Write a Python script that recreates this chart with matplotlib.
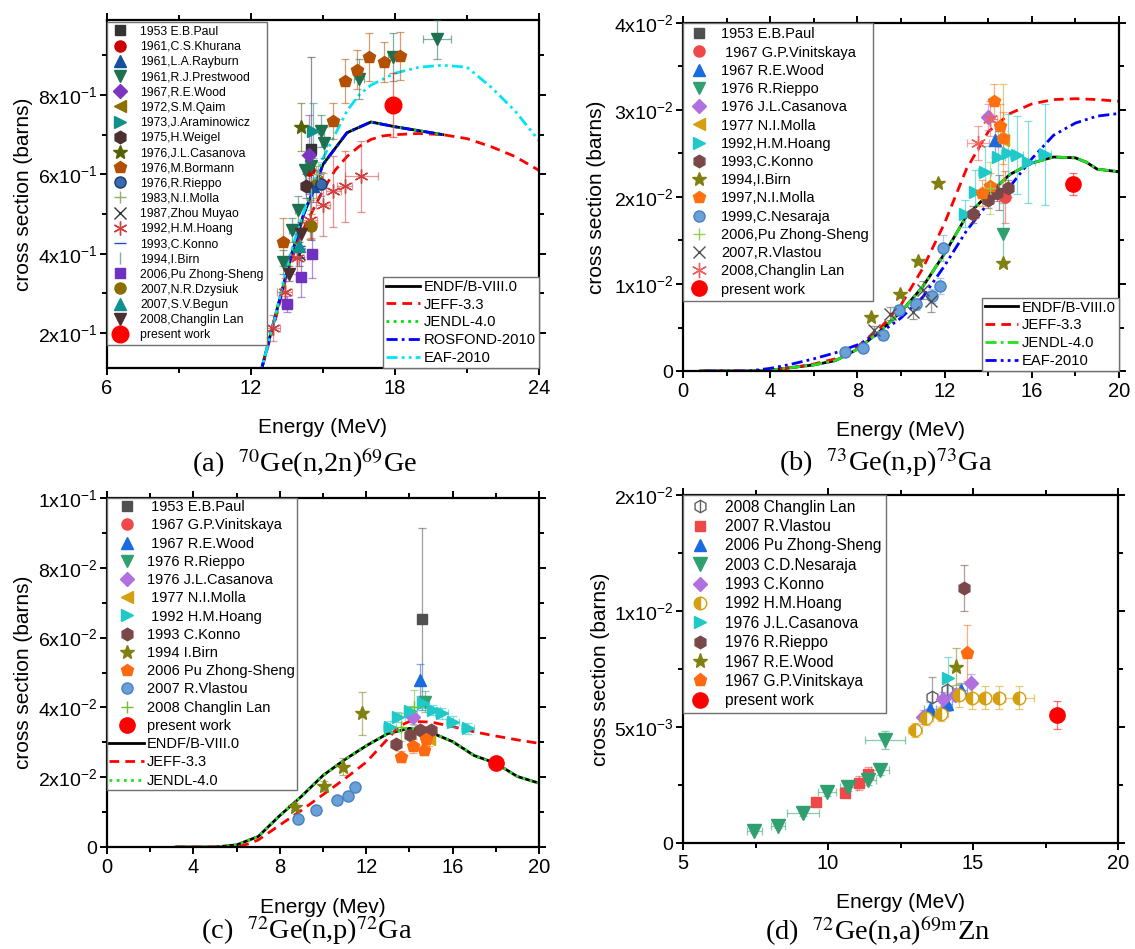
import numpy as np
import matplotlib
matplotlib.use("Agg")
from matplotlib import pyplot as plt
from matplotlib import ticker

plt.rcParams['font.family'] = ['Liberation Sans', 'DejaVu Sans']
plt.rcParams['mathtext.fontset'] = 'custom'
plt.rcParams['mathtext.rm'] = 'Liberation Sans'
plt.rcParams['mathtext.it'] = 'Liberation Sans:italic'
plt.rcParams['mathtext.bf'] = 'Liberation Sans:bold'

# ---------------- (a) 70Ge(n,2n)69Ge ----------------
a_endf_e = [12.0, 12.4, 13.0, 13.7, 14.2, 14.6, 15.0, 16.0, 17.0, 18.0, 19.0, 20.0]
a_endf_y = [0.0, 0.10, 0.24, 0.40, 0.50, 0.56, 0.625, 0.705, 0.732, 0.72, 0.71, 0.70]
a_jeff_e = [12.0, 12.4, 13.0, 13.5, 14.0, 14.5, 15.0, 15.5, 16.0, 16.5, 17.0, 17.5, 18.0, 19.0, 20.0, 21.0, 22.0, 23.0, 24.0]
a_jeff_y = [0.0, 0.10, 0.23, 0.35, 0.44, 0.50, 0.56, 0.61, 0.645, 0.67, 0.688, 0.697, 0.70, 0.703, 0.70, 0.69, 0.67, 0.645, 0.61]
a_eaf_e = [12.0, 12.4, 13.0, 13.5, 14.0, 14.5, 15.0, 15.5, 16.0, 16.5, 17.0, 17.5, 18.0, 19.0, 20.0, 21.0, 22.0, 23.0, 24.0]
a_eaf_y = [0.0, 0.10, 0.24, 0.37, 0.47, 0.56, 0.64, 0.70, 0.76, 0.80, 0.825, 0.84, 0.855, 0.87, 0.875, 0.87, 0.82, 0.76, 0.685]

a_paul_e, a_paul_y, a_paul_err = [14.5], [0.665], [0.23]
a_khurana_e, a_khurana_y, a_khurana_err = [14.4], [0.61], [0.04]
a_rayburn_e, a_rayburn_y, a_rayburn_err = [14.6], [0.57], [0.04]
a_prestwood_e = [13.35, 13.7, 13.95, 14.25, 14.5, 14.9, 15.05, 16.5, 17.9, 19.75]
a_prestwood_y = [0.38, 0.46, 0.51, 0.61, 0.62, 0.71, 0.68, 0.84, 0.895, 0.94]
a_prestwood_err = [0.03, 0.03, 0.035, 0.04, 0.04, 0.04, 0.04, 0.05, 0.06, 0.05]
a_prestwood_xerr = [0.1, 0.1, 0.1, 0.1, 0.1, 0.1, 0.1, 0.2, 0.2, 0.6]
a_wood_e, a_wood_y, a_wood_err = [14.4], [0.65], [0.1]
a_qaim_e, a_qaim_y, a_qaim_err = [14.7], [0.58], [0.04]
a_aram_e, a_aram_y, a_aram_err = [14.6], [0.71], [0.07]
a_weigel_e, a_weigel_y, a_weigel_err = [14.3], [0.57], [0.03]
a_casanova_e, a_casanova_y, a_casanova_err = [14.07], [0.72], [0.06]
a_bormann_e = [13.35, 15.4, 15.9, 16.4, 16.9, 17.55, 18.2]
a_bormann_y = [0.43, 0.735, 0.836, 0.864, 0.896, 0.883, 0.898]
a_bormann_err = [0.06, 0.045, 0.055, 0.05, 0.06, 0.05, 0.06]
a_rieppo_e, a_rieppo_y, a_rieppo_err = [14.9], [0.575], [0.03]
a_molla_e, a_molla_y, a_molla_err = [14.8], [0.60], [0.03]
a_zhou_e, a_zhou_y, a_zhou_err = [14.0], [0.40], [0.03]
a_hoang_e = [12.9, 13.4, 13.9, 14.45, 14.99, 15.43, 15.9, 16.6]
a_hoang_y = [0.212, 0.304, 0.39, 0.486, 0.524, 0.557, 0.57, 0.595]
a_hoang_err = [0.033, 0.035, 0.04, 0.05, 0.08, 0.09, 0.09, 0.09]
a_hoang_xerr = [0.3, 0.3, 0.3, 0.3, 0.3, 0.3, 0.3, 0.7]
a_konno_e, a_konno_y, a_konno_err = [14.0], [0.42], [0.03]
a_birn_e, a_birn_y, a_birn_err = [14.5], [0.55], [0.04]
a_pu_e, a_pu_y, a_pu_err = [13.5, 14.07, 14.55], [0.273, 0.342, 0.40], [0.02, 0.05, 0.06]
a_dzysiuk_e, a_dzysiuk_y, a_dzysiuk_err = [14.5], [0.47], [0.03]
a_begun_e, a_begun_y, a_begun_err = [14.0], [0.42], [0.03]
a_lan_e, a_lan_y, a_lan_err = [13.6, 14.1], [0.35, 0.45], [0.02, 0.03]
a_present_e, a_present_y, a_present_err = [17.9], [0.775], [0.08]

# ---------------- (b) 73Ge(n,p)73Ga ----------------
b_endf_e = [0.8, 3, 4, 5, 6, 7, 8, 9, 10, 11, 12, 13, 14, 15, 16, 17, 18, 18.5, 19, 20]
b_endf_y = [0, 0, 0.0001, 0.0004, 0.0007, 0.0012, 0.0025, 0.0045, 0.0068, 0.0097, 0.0135, 0.0178,
            0.0203, 0.0226, 0.0239, 0.0246, 0.0245, 0.024, 0.0232, 0.0229]
b_jeff_e = [0.8, 3, 4, 5, 6, 7, 8, 9, 10, 11, 12, 13, 14, 15, 16, 17, 18, 19, 20]
b_jeff_y = [0, 0, 0.0001, 0.0004, 0.0008, 0.0014, 0.0028, 0.0048, 0.0076, 0.0118, 0.017, 0.0232,
            0.0275, 0.0296, 0.0307, 0.0312, 0.0313, 0.0312, 0.031]
b_eaf_e = [1, 3, 4, 5, 6, 7, 8, 9, 10, 11, 12, 13, 14, 15, 16, 17, 18, 19, 20]
b_eaf_y = [0, 0, 0.0003, 0.0008, 0.0014, 0.0021, 0.003, 0.0043, 0.0061, 0.0085, 0.0121, 0.0161,
           0.0193, 0.0212, 0.0244, 0.0271, 0.0285, 0.0293, 0.0296]

b_paul_e, b_paul_y, b_paul_err = [14.5], [0.0205], [0.002]
b_vinit_e, b_vinit_y, b_vinit_err = [14.77], [0.020], [0.003]
b_wood_e, b_wood_y, b_wood_err = [14.3], [0.0266], [0.002]
b_rieppo_e, b_rieppo_y, b_rieppo_err = [14.66], [0.0158], [0.0035]
b_casanova_e, b_casanova_y, b_casanova_err = [14.0], [0.0292], [0.0015]
b_molla77_e, b_molla77_y, b_molla77_err = [14.7], [0.0265], [0.0065]
b_hoang_e = [12.94, 13.4, 13.85, 14.46, 14.9, 15.3, 15.83, 16.6]
b_hoang_y = [0.0181, 0.0206, 0.0229, 0.0246, 0.025, 0.0248, 0.024, 0.0249]
b_hoang_err = [0.0015, 0.0025, 0.003, 0.004, 0.0045, 0.0045, 0.0047, 0.0058]
b_konno_e, b_konno_y, b_konno_err = [13.3, 14.0, 14.4, 14.9], [0.018, 0.0197, 0.0205, 0.021], [0.001, 0.001, 0.001, 0.001]
b_birn_e, b_birn_y = [8.62, 9.95, 10.8, 11.68, 14.66], [0.0062, 0.0089, 0.0126, 0.0216, 0.0124]
b_molla97_e = [14.27, 14.55, 14.7, 14.1, 13.7]
b_molla97_y = [0.031, 0.0282, 0.0268, 0.0213, 0.0205]
b_molla97_err = [0.002, 0.0025, 0.003, 0.0015, 0.0015]
b_nesaraja_e = [7.43, 8.26, 9.16, 9.9, 10.7, 11.4, 11.8, 11.93]
b_nesaraja_y = [0.0022, 0.0026, 0.0041, 0.007, 0.0077, 0.0086, 0.0098, 0.0141]
b_nesaraja_err = [0.0003, 0.0003, 0.0005, 0.0006, 0.0007, 0.0008, 0.0009, 0.0015]
b_pu_e, b_pu_y, b_pu_err = [14.1], [0.021], [0.003]
b_vlastou_e = [8.77, 9.5, 10.55, 11.0, 11.36]
b_vlastou_y = [0.0047, 0.0066, 0.0068, 0.0093, 0.008]
b_vlastou_err = [0.0005, 0.0007, 0.0008, 0.001, 0.0012]
b_lan_e, b_lan_y, b_lan_err = [13.54, 14.1], [0.0262, 0.029], [0.002, 0.002]
b_present_e, b_present_y, b_present_err = [17.87], [0.0215], [0.0013]

# ---------------- (c) 72Ge(n,p)72Ga ----------------
c_endf_e = [3.2, 5, 6, 7, 8, 9, 10, 11, 12, 13, 14, 15, 16, 17, 18, 19, 20]
c_endf_y = [0, 0, 0.0006, 0.003, 0.009, 0.0145, 0.0205, 0.025, 0.029, 0.0325, 0.034, 0.0328,
            0.0302, 0.0262, 0.024, 0.0202, 0.0183]
c_jeff_e = [3.2, 5, 6, 6.6, 7, 8, 9, 10, 11, 12, 13, 13.5, 14, 15, 16, 17, 18, 19, 20]
c_jeff_y = [0, 0, 0, 0.001, 0.002, 0.0063, 0.0105, 0.015, 0.0195, 0.0243, 0.031, 0.0345, 0.036,
            0.0358, 0.0345, 0.033, 0.0318, 0.0307, 0.0297]

c_paul_e, c_paul_y, c_paul_err = [14.57], [0.0653], [0.026]
c_vinit_e, c_vinit_y, c_vinit_err = [14.75], [0.0315], [0.002]
c_wood_e, c_wood_y, c_wood_err = [14.5], [0.0478], [0.0046]
c_rieppo_e, c_rieppo_y, c_rieppo_err = [14.72], [0.0416], [0.003]
c_casanova_e, c_casanova_y, c_casanova_err = [14.17], [0.0373], [0.002]
c_molla_e, c_molla_y, c_molla_err = [14.9], [0.031], [0.002]
c_hoang_e = [13.1, 13.48, 14.03, 14.63, 15.1, 15.5, 16.0, 16.7]
c_hoang_y = [0.0345, 0.0373, 0.039, 0.0413, 0.0393, 0.0383, 0.0359, 0.034]
c_hoang_err = [0.0015] * 8
c_konno_e, c_konno_y, c_konno_err = [13.4, 14.03, 14.5, 15.0], [0.0295, 0.0321, 0.0335, 0.0335], [0.001] * 4
c_birn_e, c_birn_y, c_birn_err = [8.7, 10.05, 10.94, 11.8], [0.0116, 0.0175, 0.023, 0.0383], [0.001, 0.0015, 0.0025, 0.0062]
c_pu_e, c_pu_y, c_pu_err = [13.6, 14.17, 14.68, 14.75], [0.0259, 0.029, 0.0278, 0.031], [0.0015, 0.002, 0.0015, 0.002]
c_vlastou_e = [8.85, 9.68, 10.65, 11.15, 11.48]
c_vlastou_y = [0.0079, 0.0106, 0.0135, 0.0146, 0.0173]
c_lan_e, c_lan_y, c_lan_err = [13.6, 14.2], [0.0345, 0.040], [0.004, 0.005]
c_present_e, c_present_y, c_present_err = [18.0], [0.0242], [0.0015]

# ---------------- (d) 72Ge(n,a)69mZn ----------------
d_lan_e, d_lan_y, d_lan_err = [13.6, 14.09], [0.0063, 0.0066], [0.00086, 0.0006]
d_vlastou_e = [9.59, 10.59, 11.08, 11.39]
d_vlastou_y = [0.00175, 0.00217, 0.00257, 0.00297]
d_vlastou_err = [0.0002, 0.0002, 0.0003, 0.0003]
d_pu_e, d_pu_y, d_pu_err = [13.52, 14.09, 14.6], [0.00576, 0.0060, 0.0066], [0.0003, 0.0003, 0.0003]
d_nesaraja_e = [7.46, 8.27, 9.15, 9.96, 10.7, 11.37, 11.79, 11.97]
d_nesaraja_y = [0.00053, 0.00073, 0.00128, 0.00221, 0.00243, 0.00272, 0.00315, 0.00444]
d_nesaraja_err = [0.0001, 0.0001, 0.0001, 0.0002, 0.0002, 0.0002, 0.0002, 0.0004]
d_nesaraja_xerr = [0.25, 0.25, 0.55, 0.3, 0.3, 0.3, 0.3, 0.7]
d_konno_e, d_konno_y = [13.29, 13.98, 14.38, 14.92], [0.00545, 0.0062, 0.0064, 0.00688]
d_konno_err = [0.0003, 0.0003, 0.0003, 0.0004]
d_hoang_e = [13.0, 13.38, 13.9, 14.52, 14.98, 15.42, 15.9, 16.6]
d_hoang_y = [0.00487, 0.00537, 0.00556, 0.00636, 0.00626, 0.00626, 0.00626, 0.00626]
d_hoang_err = [0.0003, 0.0003, 0.0003, 0.0005, 0.0005, 0.0005, 0.0005, 0.0005]
d_hoang_xerr = [0.25, 0.25, 0.25, 0.2, 0.2, 0.2, 0.2, 0.5]
d_casanova_e, d_casanova_y, d_casanova_err = [14.15], [0.0071], [0.0009]
d_rieppo_e, d_rieppo_y, d_rieppo_err = [14.69], [0.011], [0.001]
d_wood_e, d_wood_y, d_wood_err = [14.4], [0.0076], [0.0008]
d_vinit_e, d_vinit_y, d_vinit_err = [14.8], [0.0082], [0.0012]
d_present_e, d_present_y, d_present_err = [17.9], [0.0055], [0.0006]


def sci_fmt(v, pos):
    if abs(v) < 1e-12:
        return '0'
    e = int(np.floor(np.log10(abs(v)) + 1e-9))
    m = int(round(v / 10 ** e))
    return f'{m}x10$^{{{e}}}$'


def series(ax, e, y, yerr, marker, color, label, ms=8, xerr=None, mec=None, **kw):
    if yerr is not None or xerr is not None:
        ax.errorbar(e, y, yerr=yerr, xerr=xerr, fmt='none', ecolor=color, elinewidth=0.9,
                    capsize=3, capthick=0.9, alpha=0.55, zorder=3)
    return ax.plot(e, y, ls='none', marker=marker, color=color, ms=ms,
                   mec=mec or color, label=label, zorder=4, **kw)[0]


def style_axes(ax, xlim, ylim, xmaj, ymaj, xlabel, ylab_x):
    ax.set_xlim(*xlim)
    ax.set_ylim(*ylim)
    ax.xaxis.set_major_locator(ticker.MultipleLocator(xmaj))
    ax.xaxis.set_minor_locator(ticker.MultipleLocator(xmaj / 2))
    ax.yaxis.set_major_locator(ticker.MultipleLocator(ymaj))
    ax.yaxis.set_minor_locator(ticker.MultipleLocator(ymaj / 2))
    ax.yaxis.set_major_formatter(ticker.FuncFormatter(sci_fmt))
    ax.tick_params(which='both', direction='out', top=True, right=True, width=1.4)
    ax.tick_params(which='major', length=5)
    ax.tick_params(which='minor', length=3.5)
    ax.tick_params(axis='y', labelsize=14, pad=2)
    ax.tick_params(axis='x', labelsize=14.5, pad=3)
    for s in ax.spines.values():
        s.set_linewidth(1.6)
    ax.set_ylabel('cross section (barns)', fontsize=15)
    ax.yaxis.set_label_coords(ylab_x, 0.5)
    ax.set_xlabel(xlabel, fontsize=15)
    ax.xaxis.set_label_coords(0.5, -0.145)


leg_kw = dict(fancybox=False, framealpha=1, edgecolor='#707070', borderaxespad=0)

fig = plt.figure(figsize=(11.35, 9.49), dpi=100)
ax_a = fig.add_axes([107 / 1135, 1 - 368 / 949, 432 / 1135, 348 / 949])
ax_b = fig.add_axes([683 / 1135, 1 - 371 / 949, 436 / 1135, 348 / 949])
ax_c = fig.add_axes([107 / 1135, 1 - 847 / 949, 432 / 1135, 349 / 949])
ax_d = fig.add_axes([683 / 1135, 1 - 843 / 949, 435 / 1135, 348 / 949])

# ---- (a)
ax = ax_a
la = [ax.plot(a_endf_e, a_endf_y, color='black', lw=2, label='ENDF/B-VIII.0', zorder=2)[0],
      ax.plot(a_jeff_e, a_jeff_y, color='red', lw=2, dashes=[3.5, 2.2], label='JEFF-3.3', zorder=2)[0],
      ax.plot(a_endf_e, a_endf_y, color='#00e000', lw=2, dashes=[1, 1.6], label='JENDL-4.0', zorder=2)[0],
      ax.plot(a_endf_e, a_endf_y, color='#0000ff', lw=2, dashes=[4, 1.5, 1, 1.5], label='ROSFOND-2010', zorder=2)[0],
      ax.plot(a_eaf_e, a_eaf_y, color='#00e5f5', lw=2, dashes=[4, 1.5, 1, 1.5, 1, 1.5], label='EAF-2010', zorder=2)[0]]
ha = [series(ax, a_paul_e, a_paul_y, a_paul_err, 's', '#333333', '1953 E.B.Paul', ms=7.5),
      series(ax, a_khurana_e, a_khurana_y, a_khurana_err, 'o', '#cc0000', '1961,C.S.Khurana'),
      series(ax, a_rayburn_e, a_rayburn_y, a_rayburn_err, '^', '#1450a0', '1961,L.A.Rayburn'),
      series(ax, a_prestwood_e, a_prestwood_y, a_prestwood_err, 'v', '#1e7050', '1961,R.J.Prestwood', ms=9, xerr=a_prestwood_xerr),
      series(ax, a_wood_e, a_wood_y, a_wood_err, 'D', '#7b35c0', '1967,R.E.Wood', ms=7),
      series(ax, a_qaim_e, a_qaim_y, a_qaim_err, '<', '#8b7000', '1972,S.M.Qaim'),
      series(ax, a_aram_e, a_aram_y, a_aram_err, '>', '#10908a', '1973,J.Araminowicz', ms=9),
      series(ax, a_weigel_e, a_weigel_y, a_weigel_err, 'h', '#4a3030', '1975,H.Weigel', ms=9),
      series(ax, a_casanova_e, a_casanova_y, a_casanova_err, '*', '#556000', '1976,J.L.Casanova', ms=10),
      series(ax, a_bormann_e, a_bormann_y, a_bormann_err, 'p', '#b35000', '1976,M.Bormann', ms=9),
      series(ax, a_rieppo_e, a_rieppo_y, a_rieppo_err, 'o', '#3a6ab0', '1976,R.Rieppo', mec='#1a3a70'),
      series(ax, a_molla_e, a_molla_y, a_molla_err, '+', '#90b070', '1983,N.I.Molla', ms=9),
      series(ax, a_zhou_e, a_zhou_y, a_zhou_err, 'x', '#333333', '1987,Zhou Muyao', ms=9),
      series(ax, a_hoang_e, a_hoang_y, a_hoang_err, (6, 2, 0), '#d04040', '1992,H.M.Hoang', ms=10, xerr=a_hoang_xerr),
      series(ax, a_konno_e, a_konno_y, a_konno_err, '_', '#2050c0', '1993,C.Konno', ms=8),
      series(ax, a_birn_e, a_birn_y, a_birn_err, '|', '#80b0a0', '1994,I.Birn', ms=8),
      series(ax, a_pu_e, a_pu_y, a_pu_err, 's', '#7030c0', '2006,Pu Zhong-Sheng', ms=7.5, xerr=[0.2, 0.2, 0.2]),
      series(ax, a_dzysiuk_e, a_dzysiuk_y, a_dzysiuk_err, 'o', '#8b6d00', '2007,N.R.Dzysiuk'),
      series(ax, a_begun_e, a_begun_y, a_begun_err, '^', '#109090', '2007,S.V.Begun'),
      series(ax, a_lan_e, a_lan_y, a_lan_err, 'v', '#4a3030', '2008,Changlin Lan', ms=9),
      series(ax, a_present_e, a_present_y, a_present_err, 'o', '#ff0000', 'present work', ms=12)]
style_axes(ax, (6, 24), (0.112, 0.989), 6, 0.2, 'Energy (MeV)', -0.172)
leg1 = ax.legend(handles=ha, loc='upper left', bbox_to_anchor=(0, 0.994), fontsize=8.8,
                 labelspacing=0.26, handlelength=1.6, handletextpad=0.8, borderpad=0.3, **leg_kw)
ax.add_artist(leg1)
ax.legend(handles=la, loc='lower right', bbox_to_anchor=(1, 0), fontsize=10.6, labelspacing=0.26,
          handlelength=2.3, handletextpad=0.25, borderpad=0.2, **leg_kw)

# ---- (b)
ax = ax_b
lb = [ax.plot(b_endf_e, b_endf_y, color='black', lw=2, label='ENDF/B-VIII.0', zorder=2)[0],
      ax.plot(b_jeff_e, b_jeff_y, color='red', lw=2, dashes=[3.5, 2.2], label='JEFF-3.3', zorder=2)[0],
      ax.plot(b_endf_e, b_endf_y, color='#20e020', lw=2, dashes=[4, 1.5, 1, 1.5], label='JENDL-4.0', zorder=2)[0],
      ax.plot(b_eaf_e, b_eaf_y, color='#0000ff', lw=2, dashes=[4, 1.5, 1, 1.5, 1, 1.5], label='EAF-2010', zorder=2)[0]]
hb = [series(ax, b_paul_e, b_paul_y, b_paul_err, 's', '#505050', '1953 E.B.Paul', ms=7.5),
      series(ax, b_vinit_e, b_vinit_y, b_vinit_err, 'o', '#f04848', ' 1967 G.P.Vinitskaya'),
      series(ax, b_wood_e, b_wood_y, b_wood_err, '^', '#1a6ae0', '1967 R.E.Wood', ms=9),
      series(ax, b_rieppo_e, b_rieppo_y, b_rieppo_err, 'v', '#30a070', '1976 R.Rieppo', ms=9),
      series(ax, b_casanova_e, b_casanova_y, b_casanova_err, 'D', '#b070e0', '1976 J.L.Casanova', ms=7),
      series(ax, b_molla77_e, b_molla77_y, b_molla77_err, '<', '#d4a010', '1977 N.I.Molla', ms=9),
      series(ax, b_hoang_e, b_hoang_y, b_hoang_err, '>', '#20c8c8', '1992,H.M.Hoang', ms=9, xerr=[0.3] * 8),
      series(ax, b_konno_e, b_konno_y, b_konno_err, 'h', '#7a4848', '1993,C.Konno', ms=9),
      series(ax, b_birn_e, b_birn_y, None, '*', '#808010', '1994,I.Birn', ms=10),
      series(ax, b_molla97_e, b_molla97_y, b_molla97_err, 'p', '#ff7010', '1997,N.I.Molla', ms=9),
      series(ax, b_nesaraja_e, b_nesaraja_y, b_nesaraja_err, 'o', '#6aa0d8', '1999,C.Nesaraja', mec='#4a80c0'),
      series(ax, b_pu_e, b_pu_y, b_pu_err, '+', '#90d050', '2006,Pu Zhong-Sheng', ms=9),
      series(ax, b_vlastou_e, b_vlastou_y, b_vlastou_err, 'x', '#505050', '2007,R.Vlastou', ms=9),
      series(ax, b_lan_e, b_lan_y, b_lan_err, (6, 2, 0), '#f06060', '2008,Changlin Lan', ms=11, xerr=[0.5, 0.3]),
      series(ax, b_present_e, b_present_y, b_present_err, 'o', '#ff0000', 'present work', ms=11)]
style_axes(ax, (0, 20), (0, 0.04), 4, 0.01, 'Energy (MeV)', -0.177)
leg1 = ax.legend(handles=hb, loc='upper left', bbox_to_anchor=(0, 1), fontsize=10.5,
                 labelspacing=0.29, handlelength=1.6, handletextpad=0.7, borderpad=0.3, **leg_kw)
ax.add_artist(leg1)
ax.legend(handles=lb, loc='lower right', bbox_to_anchor=(1, 0), fontsize=10.6, labelspacing=0.26,
          handlelength=2.3, handletextpad=0.25, borderpad=0.2, **leg_kw)

# ---- (c)
ax = ax_c
lc = [ax.plot(c_endf_e, c_endf_y, color='black', lw=2, label='ENDF/B-VIII.0', zorder=2)[0],
      ax.plot(c_jeff_e, c_jeff_y, color='red', lw=2, dashes=[3.5, 2.2], label='JEFF-3.3', zorder=2)[0],
      ax.plot(c_endf_e, c_endf_y, color='#20e020', lw=2, dashes=[1, 1.6], label='JENDL-4.0', zorder=2)[0]]
hc = [series(ax, c_paul_e, c_paul_y, c_paul_err, 's', '#505050', ' 1953 E.B.Paul', ms=7.5),
      series(ax, c_vinit_e, c_vinit_y, c_vinit_err, 'o', '#f04848', ' 1967 G.P.Vinitskaya'),
      series(ax, c_wood_e, c_wood_y, c_wood_err, '^', '#1a6ae0', ' 1967 R.E.Wood', ms=9),
      series(ax, c_rieppo_e, c_rieppo_y, c_rieppo_err, 'v', '#30a070', '1976 R.Rieppo', ms=9),
      series(ax, c_casanova_e, c_casanova_y, c_casanova_err, 'D', '#b070e0', '1976 J.L.Casanova', ms=7),
      series(ax, c_molla_e, c_molla_y, c_molla_err, '<', '#d4a010', ' 1977 N.I.Molla', ms=9),
      series(ax, c_hoang_e, c_hoang_y, c_hoang_err, '>', '#20c8c8', ' 1992 H.M.Hoang', ms=9, xerr=[0.3] * 8),
      series(ax, c_konno_e, c_konno_y, c_konno_err, 'h', '#7a4848', '1993 C.Konno', ms=9),
      series(ax, c_birn_e, c_birn_y, c_birn_err, '*', '#808010', '1994 I.Birn', ms=10),
      series(ax, c_pu_e, c_pu_y, c_pu_err, 'p', '#ff6a10', '2006 Pu Zhong-Sheng', ms=9),
      series(ax, c_vlastou_e, c_vlastou_y, None, 'o', '#6aa0d8', '2007 R.Vlastou', mec='#4a80c0'),
      series(ax, c_lan_e, c_lan_y, c_lan_err, '+', '#70c030', '2008 Changlin Lan', ms=9),
      series(ax, c_present_e, c_present_y, c_present_err, 'o', '#ff0000', 'present work', ms=11)]
style_axes(ax, (0, 20), (0, 0.1), 4, 0.02, 'Energy (Mev)', -0.172)
ax.legend(handles=hc + lc, loc='upper left', bbox_to_anchor=(0, 1), fontsize=10.5,
          labelspacing=0.29, handlelength=2.4, handletextpad=0.2, borderpad=0.15, **leg_kw)

# ---- (d)
ax = ax_d
lan_hex = series(ax, d_lan_e, d_lan_y, d_lan_err, 'h', '#606060', None, ms=9, mfc='none', mew=1)
lan_bar = ax.plot(d_lan_e, d_lan_y, ls='none', marker='|', color='#606060', ms=9, mew=1, zorder=4)[0]
hd = [(lan_hex, lan_bar),
      series(ax, d_vlastou_e, d_vlastou_y, d_vlastou_err, 's', '#f04848', None, ms=7.5),
      series(ax, d_pu_e, d_pu_y, d_pu_err, '^', '#1a6ae0', None, ms=9, xerr=[0.2] * 3),
      series(ax, d_nesaraja_e, d_nesaraja_y, d_nesaraja_err, 'v', '#30a070', None, ms=10, xerr=d_nesaraja_xerr),
      series(ax, d_konno_e, d_konno_y, d_konno_err, 'D', '#b070e0', None, ms=7),
      series(ax, d_hoang_e, d_hoang_y, d_hoang_err, 'o', '#d4a010', None, ms=9, xerr=d_hoang_xerr,
             fillstyle='left', mfcalt='white'),
      series(ax, d_casanova_e, d_casanova_y, d_casanova_err, '>', '#20c8c8', None, ms=9),
      series(ax, d_rieppo_e, d_rieppo_y, d_rieppo_err, 'h', '#7a4848', None, ms=9),
      series(ax, d_wood_e, d_wood_y, d_wood_err, '*', '#808010', None, ms=11),
      series(ax, d_vinit_e, d_vinit_y, d_vinit_err, 'p', '#ff6a10', None, ms=9.5),
      series(ax, d_present_e, d_present_y, d_present_err, 'o', '#ff0000', None, ms=11, xerr=[0.25])]
d_labels = ['2008 Changlin Lan', '2007 R.Vlastou', '2006 Pu Zhong-Sheng', '2003 C.D.Nesaraja',
            '1993 C.Konno', '1992 H.M.Hoang', '1976 J.L.Casanova', '1976 R.Rieppo',
            '1967 R.E.Wood', '1967 G.P.Vinitskaya', 'present work']
style_axes(ax, (5, 20), (0, 0.015), 5, 0.005, 'Energy (MeV)', -0.168)
ax.legend(hd, d_labels, loc='upper left', bbox_to_anchor=(0, 1), fontsize=11.2,
          labelspacing=0.28, handlelength=1.6, handletextpad=0.8, borderpad=0.3, **leg_kw)

# captions
cap_kw = dict(family='Liberation Serif', fontsize=20.5, math_fontfamily='stix', ha='center', va='center')
fig.text(305 / 1135, 1 - 463 / 949, r'(a)  $^{70}$Ge(n,2n)$^{69}$Ge', **cap_kw)
fig.text(886 / 1135, 1 - 463 / 949, r'(b)  $^{73}$Ge(n,p)$^{73}$Ga', **cap_kw)
fig.text(307 / 1135, 1 - 931 / 949, r'(c)  $^{72}$Ge(n,p)$^{72}$Ga', **cap_kw)
fig.text(878 / 1135, 1 - 931 / 949, r'(d)  $^{72}$Ge(n,a)$^{69\mathrm{m}}$Zn', **cap_kw)

fig.savefig('out.png', dpi=100)
